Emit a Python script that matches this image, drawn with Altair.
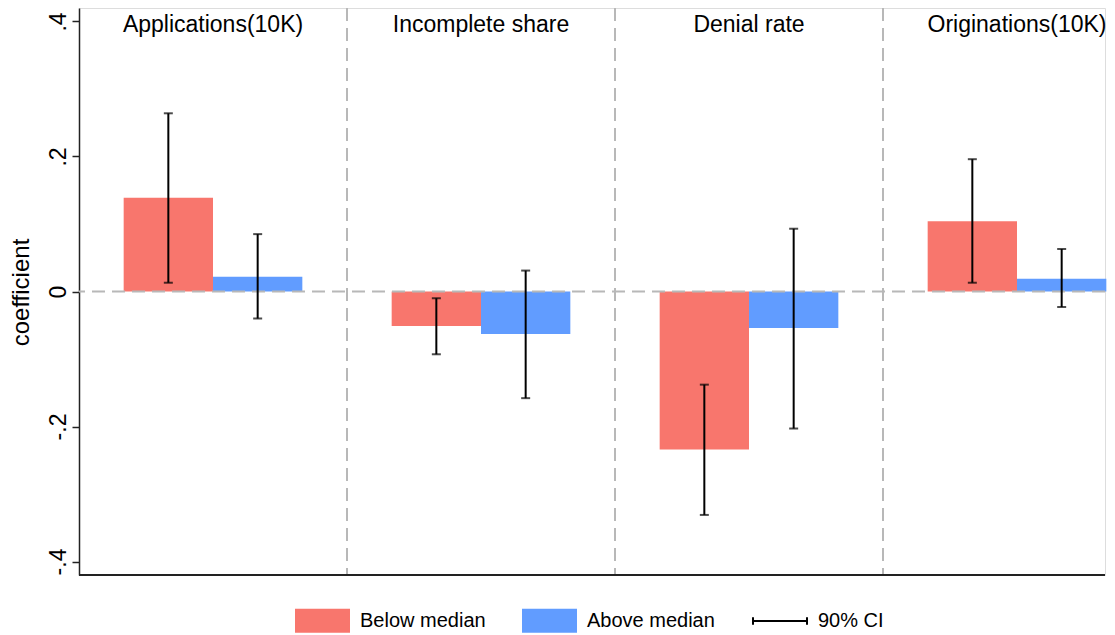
import altair as alt
import pandas as pd

panels = ["Applications(10K)", "Incomplete share", "Denial rate", "Originations(10K)"]
groups = ["Below median", "Above median"]
colors = ["#F8766D", "#619CFF"]

below_coef = [0.139, -0.051, -0.234, 0.104]
below_lo = [0.013, -0.093, -0.331, 0.013]
below_hi = [0.264, -0.010, -0.138, 0.196]

above_coef = [0.022, -0.063, -0.054, 0.019]
above_lo = [-0.040, -0.158, -0.203, -0.023]
above_hi = [0.085, 0.031, 0.093, 0.063]

y_ticks = [-0.4, -0.2, 0, 0.2, 0.4]
zero_line = [0]
ci_label = "90% CI"

rows = []
for i, p in enumerate(panels):
    rows.append(dict(panel=p, group=groups[0], coef=below_coef[i], lo=below_lo[i], hi=below_hi[i], ci=ci_label))
    rows.append(dict(panel=p, group=groups[1], coef=above_coef[i], lo=above_lo[i], hi=above_hi[i], ci=ci_label))
df = pd.DataFrame(rows)
panel_df = pd.DataFrame({"panel": panels})
sep_df = pd.DataFrame({"panel": panels[1:]})
zero_df = pd.DataFrame({"y": zero_line})

W, H = 1026, 567
FONT = "Liberation Sans"
DASH = [13, 7]
DASH_COLOR = "#b8b8b8"

xscale = alt.Scale(domain=panels, range=[0, 1072], paddingInner=0, paddingOuter=0)
xoff_scale = alt.Scale(domain=groups, paddingInner=0, paddingOuter=0.5)
yscale = alt.Scale(domain=[-0.42, 0.42], nice=False, zero=False)

X = alt.X("panel:N", scale=xscale, axis=None)
XO = alt.XOffset("group:N", scale=xoff_scale)

yaxis = alt.Axis(
    values=y_ticks,
    labelExpr="datum.value == 0 ? '0' : replace(toString(round(datum.value*10)/10), '0.', '.')",
    labelAngle=270, labelAlign="center", labelBaseline="bottom", labelPadding=2,
    labelFontSize=23, labelFont=FONT, labelColor="black",
    tickSize=7, tickColor="#222", tickWidth=1.5,
    domainColor="#222", domainWidth=1.5,
    grid=False,
    title="coefficient", titleFont=FONT, titleFontSize=24, titleFontWeight="normal",
    titleColor="black", titleAngle=270, titleX=-58, titleY=284,
    titleAlign="center", titleBaseline="middle",
)

bars = alt.Chart(df).mark_bar().encode(
    x=X, xOffset=XO,
    y=alt.Y("coef:Q", scale=yscale, axis=yaxis, stack=None),
    color=alt.Color("group:N", scale=alt.Scale(domain=groups, range=colors),
                    legend=alt.Legend(
                        title=None, orient="none", legendX=216, legendY=585,
                        direction="horizontal",
                        symbolType="M-1,-0.436H1V0.436H-1Z", symbolSize=3025,
                        symbolStrokeWidth=0, symbolOpacity=1,
                        labelFontSize=20, labelFont=FONT, labelColor="black",
                        labelOffset=10, columnPadding=36, padding=0,
                    )),
)

zero = alt.Chart(zero_df).mark_rule(color=DASH_COLOR, strokeWidth=2, strokeDash=DASH).encode(
    y=alt.Y("y:Q", scale=yscale)
)

seps = alt.Chart(sep_df).mark_rule(color=DASH_COLOR, strokeWidth=2, strokeDash=DASH).encode(
    x=alt.X("panel:N", scale=xscale, axis=None, bandPosition=0)
)

err = alt.Chart(df).mark_rule(strokeWidth=2).encode(
    x=X, xOffset=XO,
    y=alt.Y("lo:Q", scale=yscale), y2="hi:Q",
    stroke=alt.Stroke("ci:N", scale=alt.Scale(domain=[ci_label], range=["black"]),
                      legend=alt.Legend(
                          title=None, orient="none", legendX=673, legendY=585,
                          symbolType="M-1,0H1M-1,-0.14V0.14M1,-0.14V0.14",
                          symbolSize=2916, symbolStrokeWidth=2,
                          labelFontSize=20, labelFont=FONT, labelColor="black",
                          labelOffset=10, padding=0,
                      )),
)

cap_lo = alt.Chart(df).mark_tick(size=9, thickness=2, color="black").encode(
    x=X, xOffset=XO, y=alt.Y("lo:Q", scale=yscale)
)
cap_hi = alt.Chart(df).mark_tick(size=9, thickness=2, color="black").encode(
    x=X, xOffset=XO, y=alt.Y("hi:Q", scale=yscale)
)

titles = alt.Chart(panel_df).mark_text(fontSize=23, font=FONT, color="black", baseline="middle").encode(
    x=X, y=alt.value(17), text="panel:N"
)

bottom = alt.Chart(panel_df).mark_rule(color="#222", strokeWidth=1.5).encode(
    x=alt.value(0), x2=alt.value(W), y=alt.value(H)
)

chart = alt.layer(bars, zero, seps, err, cap_lo, cap_hi, titles, bottom).properties(
    width=W, height=H,
    autosize=alt.AutoSizeParams(type="none"),
    padding={"left": 71, "top": 0, "right": 2, "bottom": 60},
).configure_view(stroke=None).configure(background="white")

chart.save("out.html", embed_options={"renderer": "svg", "actions": False})
